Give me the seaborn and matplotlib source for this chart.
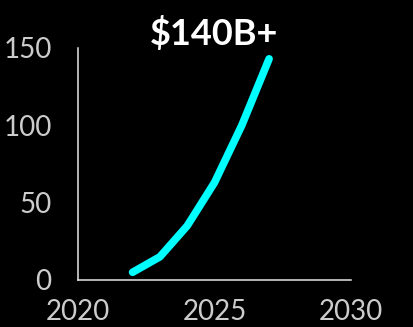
import matplotlib
matplotlib.use("Agg")
import matplotlib.pyplot as plt
import seaborn as sns
import pandas as pd

# Market size by year, in billions of dollars
years = [2022, 2023, 2024, 2025, 2026, 2027]
market_size = [5, 15, 35, 63, 100, 143]
x_ticks = [2020, 2025, 2030]
y_ticks = [0, 50, 100, 150]
headline = "$140B+"

df = pd.DataFrame({"year": years, "size": market_size})

sns.set_theme(style="white")
plt.rcParams["font.family"] = ["Lato", "DejaVu Sans"]

fig = plt.figure(figsize=(4.13, 3.27), dpi=100, facecolor="black")
ax = fig.add_axes([78 / 413, 1 - 280 / 327, (351 - 78) / 413, (280 - 48) / 327])
ax.set_facecolor("black")

sns.lineplot(data=df, x="year", y="size", ax=ax, color="#00FFFF",
             linewidth=5.5, solid_capstyle="round", solid_joinstyle="round")

ax.set_xlim(2020, 2030)
ax.set_ylim(0, 150)
ax.set_xticks(x_ticks)
ax.set_yticks(y_ticks)
ax.set_xlabel("")
ax.set_ylabel("")

for side in ("top", "right"):
    ax.spines[side].set_visible(False)
for side in ("left", "bottom"):
    ax.spines[side].set_color("#e6e6e6")
    ax.spines[side].set_linewidth(1.1)

ax.tick_params(axis="both", length=0, labelcolor="#cccccc", labelsize=20)
ax.tick_params(axis="x", pad=14)
ax.tick_params(axis="y", pad=19)

fig.text(214 / 413, 1 - 33 / 327, headline, color="white", fontsize=26,
         fontweight="bold", ha="center", va="center")

fig.savefig("out.png", dpi=100, facecolor="black")
